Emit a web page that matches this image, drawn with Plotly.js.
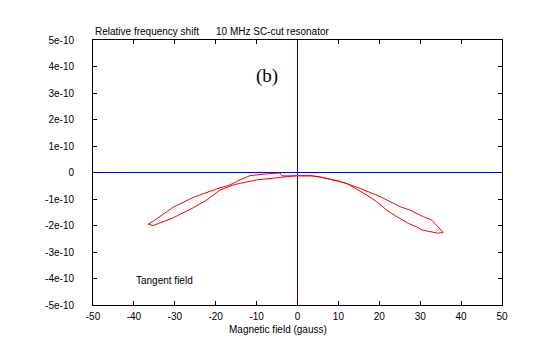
<!DOCTYPE html>
<html><head><meta charset="utf-8">
<script src="https://cdn.plot.ly/plotly-3.0.1.min.js"></script>
<style>html,body{margin:0;padding:0;background:#fff}#c{width:540px;height:355px}</style>
</head><body><div id="c"></div>
<script>
// Loop: sweep from left tip going along upper-left branch to right tip, then back along lower branch
var fieldUp = [-36.5,-35.2,-30.4,-25.5,-19.8,-16.5,-14.1,-11.6,-7.5,-4.3,-3.8,0,3.5,5.5,7.9,10,12,15.3,20.2,25.1,27.5,30.8,32.8,34.4,35.6];
var shiftUp = [-1.95,-1.83,-1.31,-0.94,-0.62,-0.47,-0.28,-0.12,-0.05,-0.02,-0.13,-0.12,-0.12,-0.17,-0.25,-0.32,-0.42,-0.60,-0.91,-1.29,-1.42,-1.67,-1.79,-2.05,-2.23];
var fieldDown = [35.6,34.4,32.4,30.4,29.1,27.1,24.3,21.8,19.4,16.9,12.0,10,7.9,5.5,3.5,-0.2,-5.9,-10,-14.1,-15.7,-18.9,-22.2,-25.5,-30.4,-35.3,-36.5];
var shiftDown = [-2.26,-2.29,-2.23,-2.17,-2.05,-1.92,-1.67,-1.42,-1.10,-0.85,-0.41,-0.32,-0.25,-0.17,-0.13,-0.12,-0.20,-0.28,-0.41,-0.47,-0.66,-1.04,-1.33,-1.71,-2.00,-1.95];
var scale = 1e-10;
var yTickVals = [5,4,3,2,1,0,-1,-2,-3,-4,-5];
var yTickText = ["5e-10","4e-10","3e-10","2e-10","1e-10","0","-1e-10","-2e-10","-3e-10","-4e-10","-5e-10"];
var xTickVals = [-50,-40,-30,-20,-10,0,10,20,30,40,50];

var xs = fieldUp.concat(fieldDown);
var ys = shiftUp.concat(shiftDown).map(function(v){return v*scale;});

var font = {family:"Liberation Sans, Arial, sans-serif", size:10, color:"#000"};
Plotly.newPlot("c", [{
  x: xs, y: ys, type:"scatter", mode:"lines",
  line:{color:"#ff0000", width:1}, hoverinfo:"skip"
}], {
  width:540, height:355,
  margin:{l:93, r:38, t:40, b:50},
  paper_bgcolor:"#fff", plot_bgcolor:"#fff",
  showlegend:false,
  font: font,
  xaxis:{range:[-50,50], tickvals:xTickVals, ticktext:xTickVals.map(String),
    showgrid:false, zeroline:true, zerolinecolor:"#0000ff", zerolinewidth:1,
    showline:true, linecolor:"#000", linewidth:1, mirror:"allticks",
    ticks:"inside", ticklen:4, tickcolor:"#000", tickfont:font, ticklabelstandoff:2},
  yaxis:{range:[-5e-10,5e-10], tickvals:yTickVals.map(function(v){return v*scale;}), ticktext:yTickText,
    showgrid:false, zeroline:true, zerolinecolor:"#0000ff", zerolinewidth:1,
    showline:true, linecolor:"#000", linewidth:1, mirror:"allticks",
    ticks:"inside", ticklen:4, tickcolor:"#000", tickfont:font, ticklabelstandoff:16},
  annotations:[
    {text:"Relative frequency shift", xref:"paper", yref:"paper", x:0, y:1, xanchor:"left", yanchor:"bottom", yshift:1, showarrow:false, font:font},
    {text:"10 MHz SC-cut resonator", xref:"paper", yref:"paper", x:(272.8-93)/409, y:1, xanchor:"center", yanchor:"bottom", yshift:1, showarrow:false, font:font},
    {text:"(b)", xref:"paper", yref:"paper", x:(267-93)/409, y:(305-75.5)/265, xanchor:"center", yanchor:"middle", showarrow:false, font:{family:"Liberation Serif, Times New Roman, serif", size:19, color:"#000"}},
    {text:"Tangent field", xref:"paper", yref:"paper", x:(134-93)/409, y:(305-280.7)/265, xanchor:"left", yanchor:"middle", showarrow:false, font:font},
    {text:"Magnetic field (gauss)", xref:"paper", yref:"paper", x:(278-93)/409, y:-(329-305)/265, xanchor:"center", yanchor:"middle", showarrow:false, font:font}
  ]
}, {displayModeBar:false, staticPlot:true});
</script></body></html>
